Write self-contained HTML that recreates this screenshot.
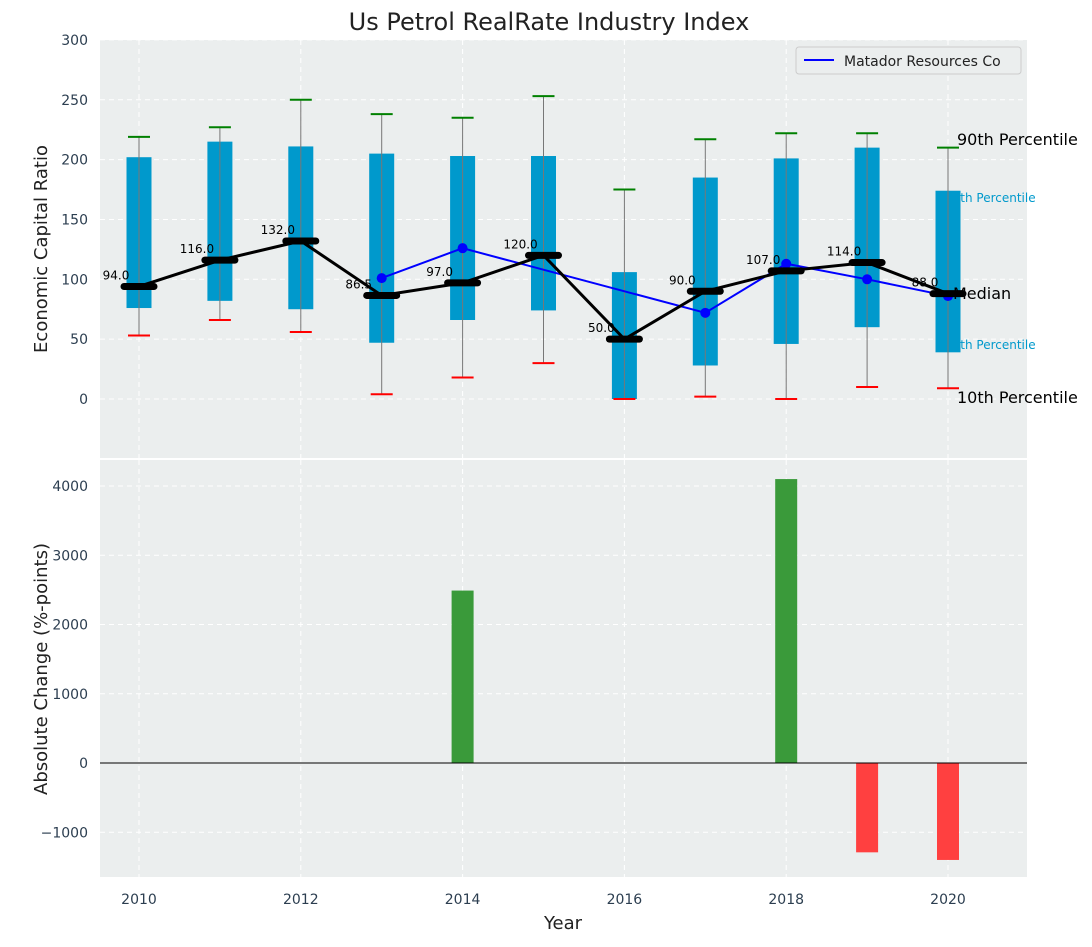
<!DOCTYPE html>
<html><head><meta charset="utf-8"><style>
body{margin:0;background:#fff;}
svg text{font-family:"DejaVu Sans","Liberation Sans",sans-serif;}
</style></head><body>
<svg id="chart" width="1092" height="942" xmlns="http://www.w3.org/2000/svg">
<rect x="100" y="40" width="927" height="418" fill="#ebeeee"/>
<rect x="100" y="460" width="927" height="417" fill="#ebeeee"/>
<g id="grid"></g>
<g id="top"></g>
<g id="bottom"></g>
<g id="axes"></g>
<text x="549" y="30" font-size="24" text-anchor="middle" fill="#222">Us Petrol RealRate Industry Index</text>
<text transform="translate(47,249) rotate(-90)" font-size="18" text-anchor="middle" fill="#222">Economic Capital Ratio</text>
<text transform="translate(53,669) rotate(-90)" font-size="18" text-anchor="middle" fill="#222" dx="0" dy="-6">Absolute Change (%-points)</text>
<text x="563" y="929" font-size="18" text-anchor="middle" fill="#222">Year</text>
<g>
<rect x="796" y="47" width="225" height="27" rx="3" fill="#ebeeee" stroke="#ccc"/>
<line x1="804" y1="60" x2="834" y2="60" stroke="#0000ff" stroke-width="2"/>
<text x="844" y="66" font-size="14" fill="#222">Matador Resources Co</text>
</g>
</svg>
<script>
const years=[2010,2011,2012,2013,2014,2015,2016,2017,2018,2019,2020];
const p90=[219,227,250,238,235,253,175,217,222,222,210];
const p75=[202,215,211,205,203,203,106,185,201,210,174];
const median=[94,116,132,86.5,97,120,50,90,107,114,88];
const p25=[76,82,75,47,66,74,0,28,46,60,39];
const p10=[53,66,56,4,18,30,0,2,0,10,9];
const matadorYears=[2013,2014,2017,2018,2019,2020];
const matadorValues=[101,126,72,113,100,86];
const changeYears=[2014,2018,2019,2020];
const changeValues=[2490,4100,-1290,-1400];
const topTicks=[0,50,100,150,200,250,300];
const bottomTicks=[-1000,0,1000,2000,3000,4000];
const xTicks=[2010,2012,2014,2016,2018,2020];

const NS="http://www.w3.org/2000/svg";
const X=y=>139+(y-2010)*80.9;
const Y1=v=>399-v*1.197;
const Y2=v=>763-v*0.06925;
function mk(parent,tag,attrs,name,text){const e=document.createElementNS(NS,tag);for(const k in attrs)e.setAttribute(k,attrs[k]);


if(text!==undefined)e.textContent=text;document.getElementById(parent).appendChild(e);return e;}

xTicks.forEach(t=>{mk('grid','line',{x1:X(t),x2:X(t),y1:40,y2:458,stroke:'#fff','stroke-dasharray':'5,4'},'top-x-grid');
mk('grid','line',{x1:X(t),x2:X(t),y1:460,y2:877,stroke:'#fff','stroke-dasharray':'5,4'},'bottom-x-grid');});
topTicks.forEach(t=>{mk('grid','line',{x1:100,x2:1027,y1:Y1(t),y2:Y1(t),stroke:'#fff','stroke-dasharray':'5,4'},'top-y-grid');
mk('axes','text',{x:88,y:Y1(t)+5,'font-size':14,'text-anchor':'end',fill:'#2c3e50'},'top-y-tick-label',t);});
bottomTicks.forEach(t=>{mk('grid','line',{x1:100,x2:1027,y1:Y2(t),y2:Y2(t),stroke:'#fff','stroke-dasharray':'5,4'},'bottom-y-grid');
mk('axes','text',{x:88,y:Y2(t)+5,'font-size':14,'text-anchor':'end',fill:'#2c3e50'},'bottom-y-tick-label',t.toString().replace('-','\u2212'));});
xTicks.forEach(t=>mk('axes','text',{x:X(t),y:904,'font-size':14,'text-anchor':'middle',fill:'#2c3e50'},'x-tick-label',t));

mk('top','text',{x:957,y:145,'font-size':16,fill:'#000'},'label-90th','90th Percentile');
mk('top','text',{x:945,y:202,'font-size':12,fill:'#0099cc'},'label-75th','75th Percentile');
mk('top','text',{x:945,y:349,'font-size':12,fill:'#0099cc'},'label-25th','25th Percentile');
mk('top','text',{x:957,y:403,'font-size':16,fill:'#000'},'label-10th','10th Percentile');

years.forEach((yr,i)=>{const x=X(yr);
mk('top','rect',{x:x-12.5,y:Y1(p75[i]),width:25,height:Y1(p25[i])-Y1(p75[i]),fill:'#0099cc'},'box-'+yr);
mk('top','line',{x1:x,x2:x,y1:Y1(p90[i]),y2:Y1(p10[i]),stroke:'#777','stroke-width':1},'whisker-'+yr);
mk('top','line',{x1:x-11,x2:x+11,y1:Y1(p90[i]),y2:Y1(p90[i]),stroke:'#008000','stroke-width':2},'cap-p90-'+yr);
mk('top','line',{x1:x-11,x2:x+11,y1:Y1(p10[i]),y2:Y1(p10[i]),stroke:'#ff0000','stroke-width':2},'cap-p10-'+yr);
});
mk('top','text',{x:953,y:299,'font-size':16,fill:'#000'},'label-median','Median');
mk('top','polyline',{points:matadorYears.map((y,i)=>X(y)+','+Y1(matadorValues[i])).join(' '),fill:'none',stroke:'#0000ff','stroke-width':2},'matador-line');
matadorYears.forEach((y,i)=>mk('top','circle',{cx:X(y),cy:Y1(matadorValues[i]),r:5,fill:'#0000ff'},'matador-point-'+y));
mk('top','polyline',{points:years.map((y,i)=>X(y)+','+Y1(median[i])).join(' '),fill:'none',stroke:'#000','stroke-width':3},'median-line');
years.forEach((y,i)=>{mk('top','line',{x1:X(y)-15,x2:X(y)+15,y1:Y1(median[i]),y2:Y1(median[i]),stroke:'#000','stroke-width':7,'stroke-linecap':'round'},'median-marker-'+y);
mk('top','text',{x:X(y)-23,y:Y1(median[i])-7,'font-size':12,'text-anchor':'middle',fill:'#000'},'median-value-'+y,median[i].toFixed(1));});

changeYears.forEach((y,i)=>{const v=changeValues[i];const y0=Y2(Math.max(v,0)),h=Math.abs(Y2(v)-Y2(0));
mk('bottom','rect',{x:X(y)-11,y:y0,width:22,height:h,fill:v>=0?'#3a9a3a':'#ff4040'},'change-bar-'+y);});
mk('bottom','line',{x1:100,x2:1027,y1:Y2(0),y2:Y2(0),stroke:'#000','stroke-width':1},'zero-line');
</script>
</body></html>
